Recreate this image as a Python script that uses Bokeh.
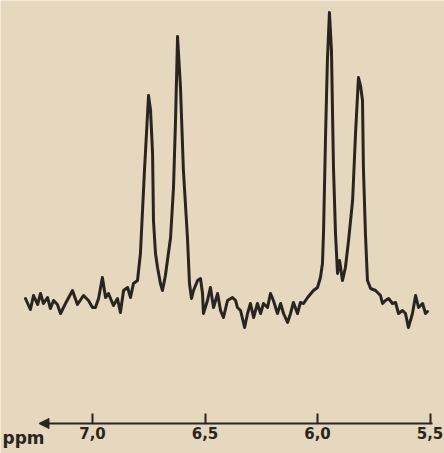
from bokeh.plotting import figure
from bokeh.models import Range1d, LinearAxis, FixedTicker, CustomJSTickFormatter, Arrow, NormalHead, Label
from bokeh.embed import file_html
from bokeh.resources import INLINE

# chemical shift (ppm) and signal intensity (arbitrary units)
ppm = [7.298, 7.276, 7.262, 7.244, 7.231, 7.218, 7.200, 7.187, 7.173, 7.156,
       7.142, 7.120, 7.089, 7.067, 7.040, 7.018, 7.000, 6.987, 6.973, 6.956,
       6.942, 6.929, 6.907, 6.889, 6.876, 6.862, 6.844, 6.831, 6.818, 6.800,
       6.787, 6.769, 6.751, 6.742, 6.733, 6.729, 6.720, 6.711, 6.698, 6.689,
       6.676, 6.667, 6.653, 6.640, 6.631, 6.622, 6.609, 6.596, 6.578, 6.569,
       6.560, 6.551, 6.533, 6.520, 6.511, 6.507, 6.489, 6.476, 6.462, 6.444,
       6.431, 6.418, 6.400, 6.378, 6.364, 6.356, 6.342, 6.324, 6.311, 6.298,
       6.284, 6.267, 6.253, 6.240, 6.222, 6.209, 6.196, 6.178, 6.164, 6.151,
       6.133, 6.120, 6.107, 6.089, 6.076, 6.062, 6.044, 6.018, 6.000, 5.987,
       5.978, 5.973, 5.964, 5.956, 5.947, 5.938, 5.929, 5.920, 5.911, 5.902,
       5.889, 5.876, 5.862, 5.844, 5.831, 5.818, 5.809, 5.800, 5.796, 5.787,
       5.778, 5.764, 5.742, 5.720, 5.711, 5.698, 5.684, 5.667, 5.653, 5.640,
       5.622, 5.609, 5.596, 5.578, 5.564, 5.551, 5.533, 5.520, 5.511]
intensity = [125, 114, 128, 119, 130, 120, 126, 115, 123, 119,
             110, 120, 133, 119, 128, 123, 116, 116, 125, 146,
             126, 130, 118, 125, 111, 133, 136, 126, 140, 143,
             170, 253, 328, 313, 270, 203, 170, 156, 140, 133,
             148, 163, 186, 236, 303, 387, 336, 253, 186, 140,
             125, 133, 143, 145, 130, 110, 123, 136, 116, 130,
             113, 106, 123, 126, 123, 116, 113, 96, 110, 120,
             106, 120, 110, 120, 116, 130, 123, 110, 120, 110,
             101, 110, 121, 110, 121, 120, 126, 133, 136, 146,
             160, 193, 290, 363, 411, 373, 256, 190, 150, 163,
             143, 156, 183, 223, 290, 346, 338, 323, 256, 190,
             143, 135, 133, 128, 120, 123, 125, 120, 121, 110,
             113, 110, 96, 110, 128, 116, 120, 110, 112]

tick_values = [7.0, 6.5, 6.0, 5.5]
axis_unit = "ppm"

paper = "#e6d8bf"
ink = "#2a2420"

p = figure(width=444, height=453,
           x_range=Range1d(7.4089, 5.4356), y_range=Range1d(-30, 423),
           output_backend="svg", toolbar_location=None,
           x_axis_location=None, y_axis_location=None,
           min_border=0, min_border_left=0, min_border_right=0,
           min_border_top=0, min_border_bottom=0)
p.background_fill_color = paper
p.border_fill_color = paper
p.outline_line_color = None
p.xgrid.visible = False
p.ygrid.visible = False

p.line(ppm, intensity, line_width=3, line_color=ink, line_join="round", line_cap="round")

ax = LinearAxis(ticker=FixedTicker(ticks=tick_values),
                formatter=CustomJSTickFormatter(code="return tick.toFixed(1).replace('.', ',');"))
ax.fixed_location = 0
ax.bounds = (5.489, 7.231)
ax.axis_line_width = 2
ax.axis_line_color = ink
ax.major_tick_in = 10
ax.major_tick_out = 0
ax.major_tick_line_width = 2
ax.major_tick_line_color = ink
ax.minor_tick_line_color = None
ax.major_label_standoff = 3
ax.major_label_text_font = "DejaVu Sans"
ax.major_label_text_font_style = "bold"
ax.major_label_text_font_size = "15px"
ax.major_label_text_color = ink
p.add_layout(ax, "below")

p.add_layout(Arrow(end=NormalHead(size=10, fill_color=ink, line_color=ink, line_width=1),
                   x_start=7.20, y_start=0, x_end=7.238, y_end=0,
                   line_width=2, line_color=ink))

p.add_layout(Label(x=7.4, y=-14, text=axis_unit, text_font="DejaVu Sans",
                   text_font_style="bold", text_font_size="17px", text_color=ink,
                   text_baseline="alphabetic"))

html = file_html(p, INLINE)
html = html.replace("<body>", '<body style="background-color:%s;">' % paper, 1)
open("out.html", "w").write(html)
